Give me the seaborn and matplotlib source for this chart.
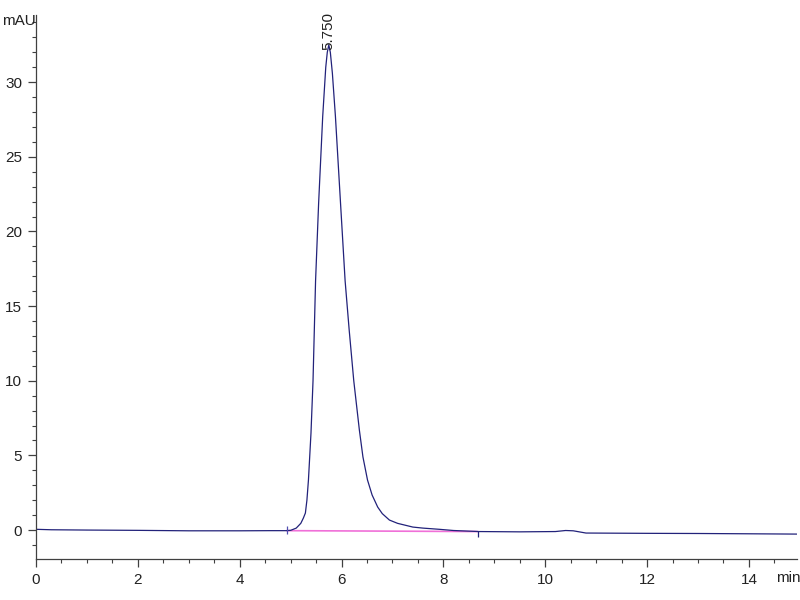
import matplotlib
matplotlib.use('Agg')
import matplotlib.pyplot as plt
import seaborn as sns
import pandas as pd
from matplotlib.ticker import MultipleLocator

# chromatogram trace (time in min, signal in mAU)
time_min = [0.0, 0.3, 1.0, 2.0, 3.0, 4.0, 4.6, 4.9, 5.0, 5.11, 5.2, 5.25, 5.29,
            5.32, 5.35, 5.40, 5.44, 5.49, 5.55, 5.63, 5.69, 5.72, 5.75, 5.78,
            5.82, 5.88, 5.98, 6.07, 6.15, 6.24, 6.35, 6.42, 6.51, 6.60, 6.71,
            6.80, 6.94, 7.10, 7.40, 7.60, 7.92, 8.20, 8.70, 9.50, 10.20, 10.40,
            10.55, 10.80, 12.0, 13.0, 14.0, 14.94]
signal_mau = [0.05, 0.02, 0.0, -0.02, -0.05, -0.05, -0.04, -0.04, -0.02, 0.13,
              0.45, 0.80, 1.14, 2.0, 3.35, 6.5, 10.0, 16.7, 21.9, 27.7, 31.0,
              32.0, 32.5, 32.0, 30.6, 27.7, 21.9, 16.7, 13.4, 10.0, 6.7, 4.9,
              3.35, 2.35, 1.54, 1.10, 0.67, 0.45, 0.20, 0.13, 0.05, -0.03, -0.10,
              -0.12, -0.10, -0.03, -0.05, -0.20, -0.22, -0.23, -0.25, -0.27]

# integration baseline and events
baseline_t = [4.92, 8.67]
baseline_y = [-0.04, -0.10]
peak_rt = 5.750
peak_height = 32.5

df = pd.DataFrame({'t': time_min, 'y': signal_mau})
base_df = pd.DataFrame({'t': baseline_t, 'y': baseline_y})

sns.set_theme(style="white")
plt.rcParams['font.family'] = ['Liberation Sans Narrow', 'Liberation Sans', 'DejaVu Sans']

fig = plt.figure(figsize=(8, 6), dpi=100)
ax = fig.add_axes([0.045, 0.0683, 0.951, 0.9067])

sns.lineplot(data=base_df, x='t', y='y', ax=ax, color='#f070d8', linewidth=1.2)
sns.lineplot(data=df, x='t', y='y', ax=ax, color='#22227a', linewidth=0.9)

# start / end event ticks
ax.vlines(baseline_t[0], -0.25, 0.25, color='#5050b0', linewidth=0.9)
ax.vlines(baseline_t[1], -0.45, -0.05, color='#22227a', linewidth=0.9)

ax.annotate(f'{peak_rt:.3f}', xy=(peak_rt, peak_height), xytext=(0, -4),
            textcoords='offset points', rotation=90, ha='center', va='bottom',
            fontsize=11, color='#222222')

ax.set_xlim(0, 14.94)
ax.set_ylim(-1.94, 34.5)
ax.xaxis.set_major_locator(MultipleLocator(2))
ax.xaxis.set_minor_locator(MultipleLocator(0.5))
ax.yaxis.set_major_locator(MultipleLocator(5))
ax.yaxis.set_minor_locator(MultipleLocator(1))
ax.tick_params(which='major', direction='out', length=6, width=0.9, color='#404040',
               labelsize=11, labelcolor='#222222', pad=4,
               bottom=True, left=True)
ax.tick_params(which='minor', direction='out', length=3, width=0.8, color='#404040',
               bottom=True, left=True)
ax.set_xlabel('')
ax.set_ylabel('')

for side in ['top', 'right']:
    ax.spines[side].set_visible(False)
for side in ['left', 'bottom']:
    ax.spines[side].set_color('#404040')
    ax.spines[side].set_linewidth(0.9)

fig.text(2 / 800, 1 - 21 / 600, 'mAU', ha='left', va='center', fontsize=11, color='#222222')
fig.text(776 / 800, 1 - 578 / 600, 'min', ha='left', va='center', fontsize=11, color='#222222')

fig.savefig('out.png', dpi=100)
